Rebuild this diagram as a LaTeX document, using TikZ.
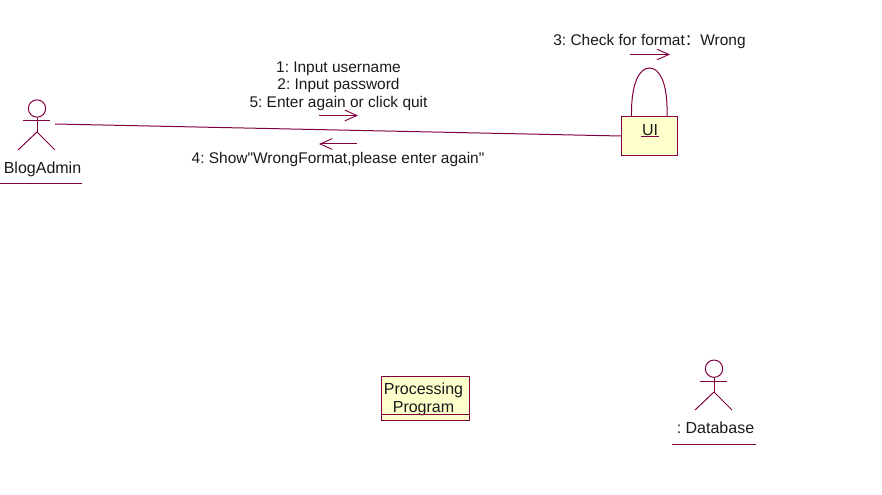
\documentclass[tikz,border=0pt]{standalone}
\usepackage{fontspec}
\setmainfont{Liberation Sans}
\newfontfamily\plainfont{Liberation Sans}
\newfontfamily\cjkfont{Noto Sans CJK SC}
\usetikzlibrary{arrows.meta}
\definecolor{umlline}{HTML}{800040}
\definecolor{umlfill}{HTML}{FFFFCB}
\definecolor{umltext}{HTML}{1A1A1A}
\tikzset{
  x=0.75pt,y=-0.75pt,
  wire/.style={draw=umlline,line width=0.75pt},
  msg/.style={wire,-{Straight Barb[length=9pt,width=8pt,line width=0.7pt]}},
  label/.style={inner sep=0pt,font=\frenchspacing\plainfont\fontsize{12pt}{13pt}\selectfont,text=umltext,align=center},
  longlabel/.style={label,font=\frenchspacing\plainfont\fontsize{11.6pt}{13pt}\selectfont},
  objbox/.style={draw=umlline,fill=umlfill,line width=0.75pt,inner sep=0pt,anchor=north west}
}
\begin{document}
\begin{tikzpicture}
\useasboundingbox (0,0) rectangle (882,495);
% BlogAdmin actor
\node[wire,circle,minimum size=13pt,inner sep=0pt] (adminhead) at (37,108.5) {};
\coordinate (adminarm1) at (23,120.5);
\coordinate (adminarm2) at (50,120.5);
\coordinate (adminhip) at (37,132);
\coordinate (adminfootl) at (18,150);
\coordinate (adminfootr) at (55,150);
\draw[wire] (adminhead.south) -- (adminhip);
\draw[wire] (adminarm1) -- (adminarm2);
\draw[wire] (adminfootl) -- (adminhip) -- (adminfootr);
\node[label] (admintext) at (42.5,169) {BlogAdmin};
\coordinate (adminul1) at (0,183.5);
\coordinate (adminul2) at (82,183.5);
\draw[wire] (adminul1) -- (adminul2);
% UI object
\node[objbox,minimum width=42pt,minimum height=29.25pt] (ui) at (621,116) {};
\node[label] (uitext) at (650,130) {UI};
\coordinate (uiul1) at (641,137);
\coordinate (uiul2) at (659,137);
\draw[wire] (uiul1) -- (uiul2);
% Link
\coordinate (adminlink) at (55,124);
\draw[wire] (adminlink) -- (ui.west);
% Self loop
\coordinate (loopl) at (631.5,116);
\coordinate (loopr) at (667,116);
\draw[wire] (loopl) .. controls (631,84) and (639,68) .. (649.5,68) .. controls (660,68) and (668,84) .. (loopr);
% Messages
\node[longlabel] (m125) at (338.5,86) {1: Input username\\2: Input password\\5: Enter again or click quit};
\node[longlabel] (m4) at (338,160) {4: Show"WrongFormat,please enter again"};
\node[longlabel] (m3) at (649.5,41.5) {3: Check for format{\cjkfont ：}Wrong};
\coordinate (a1s) at (319,115.5);
\coordinate (a1e) at (358,115.5);
\draw[msg] (a1s) -- (a1e);
\coordinate (a4s) at (357,144);
\coordinate (a4e) at (319,144);
\draw[msg] (a4s) -- (a4e);
\coordinate (a3s) at (630,54.5);
\coordinate (a3e) at (670,54.5);
\draw[msg] (a3s) -- (a3e);
% Processing Program
\node[objbox,minimum width=66pt,minimum height=33pt] (proc) at (381,375.5) {};
\node[label,font=\frenchspacing\plainfont\fontsize{12pt}{13.5pt}\selectfont] (proctext) at (423.5,399) {Processing\\Program};
\coordinate (procul1) at (381,414.5);
\coordinate (procul2) at (469,414.5);
\draw[wire] (procul1) -- (procul2);
% Database actor
\node[wire,circle,minimum size=13pt,inner sep=0pt] (dbhead) at (714,368.7) {};
\coordinate (dbarm1) at (700,381);
\coordinate (dbarm2) at (727,381);
\coordinate (dbhip) at (714,392);
\coordinate (dbfootl) at (695,410);
\coordinate (dbfootr) at (732,410);
\draw[wire] (dbhead.south) -- (dbhip);
\draw[wire] (dbarm1) -- (dbarm2);
\draw[wire] (dbfootl) -- (dbhip) -- (dbfootr);
\node[label] (dbtext) at (715.5,427.5) {: Database};
\coordinate (dbul1) at (672,444);
\coordinate (dbul2) at (756,444);
\draw[wire] (dbul1) -- (dbul2);
\end{tikzpicture}
\end{document}
